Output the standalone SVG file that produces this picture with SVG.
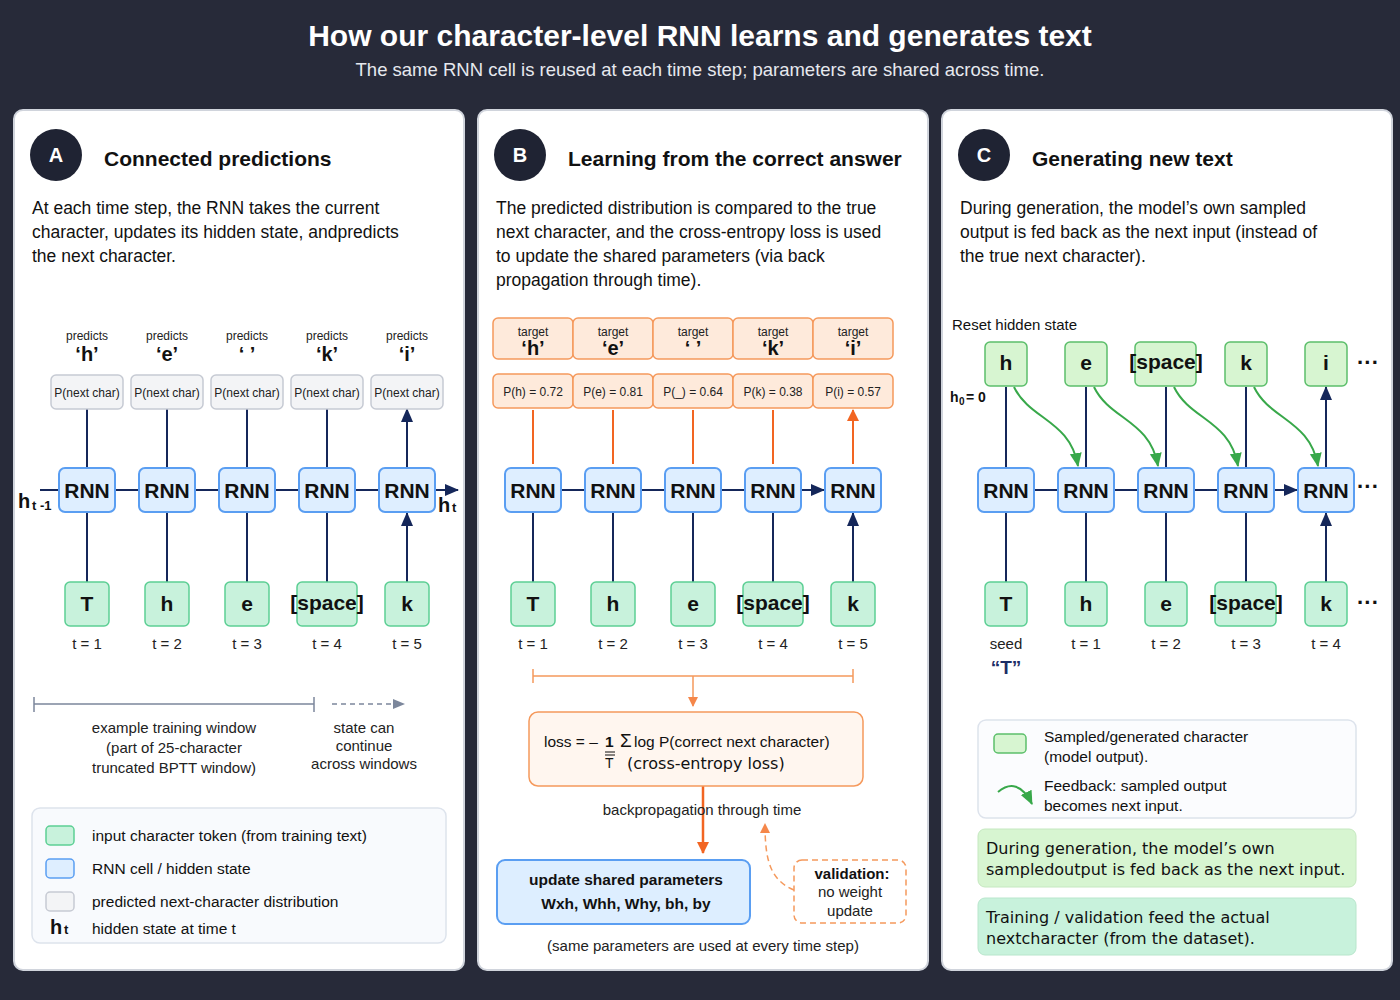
<svg xmlns="http://www.w3.org/2000/svg" width="1400" height="1000" viewBox="0 0 1400 1000">
<defs>
<marker id="nv" markerWidth="10" markerHeight="10" refX="9" refY="5" orient="auto" markerUnits="userSpaceOnUse"><path d="M0,0 L10,5 L0,10 z" fill="#15275a"/></marker>
<marker id="nvb" markerWidth="14" markerHeight="14" refX="13" refY="7" orient="auto" markerUnits="userSpaceOnUse"><path d="M0,1 L14,7 L0,13 z" fill="#15275a"/></marker>
<marker id="or" markerWidth="12" markerHeight="14" refX="11" refY="7" orient="auto" markerUnits="userSpaceOnUse"><path d="M0,1 L12,7 L0,13 z" fill="#f26522"/></marker>
<marker id="orl" markerWidth="10" markerHeight="10" refX="9" refY="5" orient="auto" markerUnits="userSpaceOnUse"><path d="M0,0 L10,5 L0,10 z" fill="#f5874a"/></marker>
<marker id="gr" markerWidth="14" markerHeight="14" refX="13" refY="7" orient="auto" markerUnits="userSpaceOnUse"><path d="M0,1 L14,7 L0,13 z" fill="#38a84a"/></marker>
<marker id="gy" markerWidth="12" markerHeight="10" refX="11" refY="5" orient="auto" markerUnits="userSpaceOnUse"><path d="M0,0 L12,5 L0,10 z" fill="#7c879c"/></marker>
</defs>
<style>
text{font-family:"Liberation Sans",Arial,sans-serif;fill:#111}
.panel{fill:#fff;stroke:#d0d4dc;stroke-width:2}
.inp{fill:#c8f2dc;stroke:#5ccf94;stroke-width:1.5}
.rnn{fill:#deeeff;stroke:#5a9ef2;stroke-width:2}
.prd{fill:#f3f4f6;stroke:#c6cad3;stroke-width:1.5}
.org{fill:#feeadb;stroke:#f5995c;stroke-width:1.5}
.smp{fill:#d7f5d1;stroke:#5cbf6b;stroke-width:1.5}
.rt{font-size:21px;font-weight:bold;text-anchor:middle}
.it{font-size:21px;font-weight:bold;text-anchor:middle}
.tl{font-size:15px;text-anchor:middle;fill:#222}
.sm{font-size:12px;text-anchor:middle;fill:#222}
.ch{font-size:20px;font-weight:bold;text-anchor:middle}
.desc{font-size:17.5px;fill:#111}
.hd{font-size:21px;font-weight:bold}
.nav{stroke:#15275a;stroke-width:2;fill:none}
.oa{stroke:#f26522;stroke-width:2;fill:none}
.ga{stroke:#38a84a;stroke-width:2;fill:none}
.badge{fill:#1f2333}
.bl{font-size:20px;font-weight:bold;fill:#fff;text-anchor:middle}
.leg{font-size:15.5px;fill:#111}
</style>
<rect width="1400" height="1000" fill="#272a39"/>
<text x="700" y="46" font-size="30" font-weight="bold" text-anchor="middle" style="fill:#fff">How our character-level RNN learns and generates text</text>
<text x="700" y="76" font-size="18.5" text-anchor="middle" style="fill:#e6e8ee">The same RNN cell is reused at each time step; parameters are shared across time.</text>

<g id="panelA">
<rect class="panel" x="14" y="110" width="450" height="860" rx="9"/>
<circle class="badge" cx="56" cy="155" r="26"/><text class="bl" x="56" y="162">A</text>
<text class="hd" x="104" y="166">Connected predictions</text>
<text class="desc" x="32" y="214">At each time step, the RNN takes the current</text>
<text class="desc" x="32" y="238">character, updates its hidden state, andpredicts</text>
<text class="desc" x="32" y="262">the next character.</text>
</g>
<g id="panelB">
<rect class="panel" x="478" y="110" width="450" height="860" rx="9"/>
<circle class="badge" cx="520" cy="155" r="26"/><text class="bl" x="520" y="162">B</text>
<text class="hd" x="568" y="166">Learning from the correct answer</text>
<text class="desc" x="496" y="214">The predicted distribution is compared to the true</text>
<text class="desc" x="496" y="238">next character, and the cross-entropy loss is used</text>
<text class="desc" x="496" y="262">to update the shared parameters (via back</text>
<text class="desc" x="496" y="286">propagation through time).</text>
</g>
<g id="panelC">
<rect class="panel" x="942" y="110" width="450" height="860" rx="9"/>
<circle class="badge" cx="984" cy="155" r="26"/><text class="bl" x="984" y="162">C</text>
<text class="hd" x="1032" y="166">Generating new text</text>
<text class="desc" x="960" y="214">During generation, the model’s own sampled</text>
<text class="desc" x="960" y="238">output is fed back as the next input (instead of</text>
<text class="desc" x="960" y="262">the true next character).</text>
</g>

<g id="connectors">
<!-- A -->
<path class="nav" d="M87 582V513M167 582V513M247 582V513M327 582V513M407 582V513" marker-end="url(#nvb)"/>
<path class="nav" d="M87 468V409M167 468V409M247 468V409M327 468V409M407 468V409" marker-end="url(#nvb)"/>
<path class="nav" d="M115 490H138M195 490H218M275 490H298M355 490H378M40 490H58M435 490H458" marker-end="url(#nvb)"/>
<!-- B -->
<path class="nav" d="M533 582V513M613 582V513M693 582V513M773 582V513M853 582V513" marker-end="url(#nvb)"/>
<path class="oa" d="M533 464V410M613 464V410M693 464V410M773 464V410M853 464V410" marker-end="url(#or)"/>
<path class="nav" d="M561 490H584M641 490H664M721 490H744M801 490H824" marker-end="url(#nvb)"/>
<path d="M533 676H853M533 669V683M853 669V683M693 676V706" stroke="#f5995c" stroke-width="1.5" fill="none" marker-end="url(#orl)"/>
<path d="M703 786V853" stroke="#f26522" stroke-width="2.5" fill="none" marker-end="url(#or)"/>
<path d="M794 890 C770 880 765 860 765 824" stroke="#f5995c" stroke-width="1.5" stroke-dasharray="6 4" fill="none" marker-end="url(#orl)"/>
<!-- C -->
<path class="nav" d="M1006 582V513M1086 582V513M1166 582V513M1246 582V513M1326 582V513" marker-end="url(#nvb)"/>
<path class="nav" d="M1006 468V387M1086 468V387M1166 468V387M1246 468V387M1326 468V387" marker-end="url(#nvb)"/>
<path class="nav" d="M1034 490H1057M1114 490H1137M1194 490H1217M1274 490H1297" marker-end="url(#nvb)"/>
<path class="ga" d="M1014 387 C1030 420 1070 420 1078 466" marker-end="url(#gr)"/>
<path class="ga" d="M1094 387 C1110 420 1150 420 1158 466" marker-end="url(#gr)"/>
<path class="ga" d="M1174 387 C1190 420 1230 420 1238 466" marker-end="url(#gr)"/>
<path class="ga" d="M1254 387 C1270 420 1310 420 1318 466" marker-end="url(#gr)"/>
</g>

<g id="chainA">
<g id="a-preds">
<text class="sm" x="87" y="340">predicts</text><text class="ch" x="87" y="361">‘h’</text>
<text class="sm" x="167" y="340">predicts</text><text class="ch" x="167" y="361">‘e’</text>
<text class="sm" x="247" y="340">predicts</text><text class="ch" x="247" y="361">‘ ’</text>
<text class="sm" x="327" y="340">predicts</text><text class="ch" x="327" y="361">‘k’</text>
<text class="sm" x="407" y="340">predicts</text><text class="ch" x="407" y="361">‘i’</text>
<rect class="prd" x="51" y="375" width="72" height="34" rx="5"/><text class="sm" x="87" y="397">P(next char)</text>
<rect class="prd" x="131" y="375" width="72" height="34" rx="5"/><text class="sm" x="167" y="397">P(next char)</text>
<rect class="prd" x="211" y="375" width="72" height="34" rx="5"/><text class="sm" x="247" y="397">P(next char)</text>
<rect class="prd" x="291" y="375" width="72" height="34" rx="5"/><text class="sm" x="327" y="397">P(next char)</text>
<rect class="prd" x="371" y="375" width="72" height="34" rx="5"/><text class="sm" x="407" y="397">P(next char)</text>
</g>
<g id="a-rnn">
<rect class="rnn" x="59" y="468" width="56" height="44" rx="6"/><text class="rt" x="87" y="498">RNN</text>
<rect class="rnn" x="139" y="468" width="56" height="44" rx="6"/><text class="rt" x="167" y="498">RNN</text>
<rect class="rnn" x="219" y="468" width="56" height="44" rx="6"/><text class="rt" x="247" y="498">RNN</text>
<rect class="rnn" x="299" y="468" width="56" height="44" rx="6"/><text class="rt" x="327" y="498">RNN</text>
<rect class="rnn" x="379" y="468" width="56" height="44" rx="6"/><text class="rt" x="407" y="498">RNN</text>
<text x="18" y="508" font-size="20" font-weight="bold">h</text><text x="32" y="510" font-size="13" font-weight="bold">t -1</text>
<text x="438" y="512" font-size="20" font-weight="bold">h</text><text x="452" y="512" font-size="13" font-weight="bold">t</text>
</g>
<g id="a-inputs">
<rect class="inp" x="65" y="582" width="44" height="44" rx="5"/><text class="it" x="87" y="611">T</text>
<rect class="inp" x="145" y="582" width="44" height="44" rx="5"/><text class="it" x="167" y="611">h</text>
<rect class="inp" x="225" y="582" width="44" height="44" rx="5"/><text class="it" x="247" y="611">e</text>
<rect class="inp" x="297" y="582" width="60" height="44" rx="5"/><text class="it" x="327" y="610">[space]</text>
<rect class="inp" x="385" y="582" width="44" height="44" rx="5"/><text class="it" x="407" y="611">k</text>
<text class="tl" x="87" y="649">t = 1</text><text class="tl" x="167" y="649">t = 2</text><text class="tl" x="247" y="649">t = 3</text><text class="tl" x="327" y="649">t = 4</text><text class="tl" x="407" y="649">t = 5</text>
</g>
<g id="a-window">
<path d="M34 704H314M34 697V712M314 697V712" stroke="#7c879c" stroke-width="1.5" fill="none"/>
<path d="M332 704H404" stroke="#7c879c" stroke-width="1.5" stroke-dasharray="5 4" fill="none" marker-end="url(#gy)"/>
<text class="tl" x="174" y="733">example training window</text>
<text class="tl" x="174" y="753">(part of 25-character</text>
<text class="tl" x="174" y="773">truncated BPTT window)</text>
<text class="tl" x="364" y="733">state can</text>
<text class="tl" x="364" y="751">continue</text>
<text class="tl" x="364" y="769">across windows</text>
</g>
<g id="a-legend">
<rect x="32" y="808" width="414" height="135" rx="8" fill="#f8fafd" stroke="#dde3ec" stroke-width="1.5"/>
<rect class="inp" x="46" y="826" width="28" height="19" rx="4"/><text class="leg" x="92" y="841">input character token (from training text)</text>
<rect class="rnn" x="46" y="859" width="28" height="19" rx="4" style="stroke-width:1.5"/><text class="leg" x="92" y="874">RNN cell / hidden state</text>
<rect class="prd" x="46" y="892" width="28" height="19" rx="4"/><text class="leg" x="92" y="907">predicted next-character distribution</text>
<text x="50" y="934" font-size="20" font-weight="bold">h</text><text x="64" y="934" font-size="13" font-weight="bold">t</text>
<text class="leg" x="92" y="934">hidden state at time t</text>
</g>
</g>

<g id="chainB">
<g id="b-targets">
<rect class="org" x="493" y="318" width="80" height="41" rx="5"/><text class="sm" x="533" y="336">target</text><text class="ch" x="533" y="355">‘h’</text>
<rect class="org" x="573" y="318" width="80" height="41" rx="5"/><text class="sm" x="613" y="336">target</text><text class="ch" x="613" y="355">‘e’</text>
<rect class="org" x="653" y="318" width="80" height="41" rx="5"/><text class="sm" x="693" y="336">target</text><text class="ch" x="693" y="355">‘ ’</text>
<rect class="org" x="733" y="318" width="80" height="41" rx="5"/><text class="sm" x="773" y="336">target</text><text class="ch" x="773" y="355">‘k’</text>
<rect class="org" x="813" y="318" width="80" height="41" rx="5"/><text class="sm" x="853" y="336">target</text><text class="ch" x="853" y="355">‘i’</text>
<rect class="org" x="493" y="374" width="80" height="34" rx="5"/><text class="sm" x="533" y="396">P(h) = 0.72</text>
<rect class="org" x="573" y="374" width="80" height="34" rx="5"/><text class="sm" x="613" y="396">P(e) = 0.81</text>
<rect class="org" x="653" y="374" width="80" height="34" rx="5"/><text class="sm" x="693" y="396">P(_) = 0.64</text>
<rect class="org" x="733" y="374" width="80" height="34" rx="5"/><text class="sm" x="773" y="396">P(k) = 0.38</text>
<rect class="org" x="813" y="374" width="80" height="34" rx="5"/><text class="sm" x="853" y="396">P(i) = 0.57</text>
</g>
<g id="b-rnn">
<rect class="rnn" x="505" y="468" width="56" height="44" rx="6"/><text class="rt" x="533" y="498">RNN</text>
<rect class="rnn" x="585" y="468" width="56" height="44" rx="6"/><text class="rt" x="613" y="498">RNN</text>
<rect class="rnn" x="665" y="468" width="56" height="44" rx="6"/><text class="rt" x="693" y="498">RNN</text>
<rect class="rnn" x="745" y="468" width="56" height="44" rx="6"/><text class="rt" x="773" y="498">RNN</text>
<rect class="rnn" x="825" y="468" width="56" height="44" rx="6"/><text class="rt" x="853" y="498">RNN</text>
</g>
<g id="b-inputs">
<rect class="inp" x="511" y="582" width="44" height="44" rx="5"/><text class="it" x="533" y="611">T</text>
<rect class="inp" x="591" y="582" width="44" height="44" rx="5"/><text class="it" x="613" y="611">h</text>
<rect class="inp" x="671" y="582" width="44" height="44" rx="5"/><text class="it" x="693" y="611">e</text>
<rect class="inp" x="743" y="582" width="60" height="44" rx="5"/><text class="it" x="773" y="610">[space]</text>
<rect class="inp" x="831" y="582" width="44" height="44" rx="5"/><text class="it" x="853" y="611">k</text>
<text class="tl" x="533" y="649">t = 1</text><text class="tl" x="613" y="649">t = 2</text><text class="tl" x="693" y="649">t = 3</text><text class="tl" x="773" y="649">t = 4</text><text class="tl" x="853" y="649">t = 5</text>
</g>
<g id="b-loss">
<rect x="529" y="712" width="334" height="74" rx="9" fill="#fff6ef" stroke="#f5995c" stroke-width="1.5"/>
<text x="544" y="747" font-size="15.5">loss = –</text>
<text x="605" y="747" font-size="15.5" font-weight="bold">1</text>
<path d="M605 752H615M605 755H615" stroke="#111" stroke-width="1"/>
<text x="605" y="768" font-size="14">T</text>
<text x="620" y="747" font-size="19">Σ</text>
<text x="634" y="747" font-size="15.5">log P(correct next character)</text>
<text x="627" y="769" font-size="16" style="font-family:'DejaVu Sans',sans-serif">(cross-entropy loss)</text>
</g>
<text class="tl" x="702" y="815">backpropagation through time</text>
<g id="b-update">
<rect x="497" y="860" width="253" height="64" rx="8" fill="#ddeeff" stroke="#5a9ef2" stroke-width="2"/>
<text x="626" y="885" font-size="15.5" font-weight="bold" text-anchor="middle">update shared parameters</text>
<text x="626" y="909" font-size="15.5" font-weight="bold" text-anchor="middle">Wxh, Whh, Why, bh, by</text>
</g>
<g id="b-validation">
<rect x="794" y="860" width="112" height="63" rx="8" fill="#fff" stroke="#f5995c" stroke-width="1.5" stroke-dasharray="6 4"/>
<text x="852" y="879" font-size="15" font-weight="bold" text-anchor="middle">validation:</text>
<text class="tl" x="850" y="897">no weight</text>
<text class="tl" x="850" y="916">update</text>
</g>
<text class="tl" x="703" y="951">(same parameters are used at every time step)</text>
</g>

<g id="chainC">
<text x="952" y="330" font-size="15">Reset hidden state</text>
<g id="c-out">
<rect class="smp" x="985" y="342" width="42" height="44" rx="5"/><text class="it" x="1006" y="370">h</text>
<rect class="smp" x="1065" y="342" width="42" height="44" rx="5"/><text class="it" x="1086" y="370">e</text>
<rect class="smp" x="1135" y="342" width="61" height="44" rx="5"/><text class="it" x="1166" y="369">[space]</text>
<rect class="smp" x="1225" y="342" width="42" height="44" rx="5"/><text class="it" x="1246" y="370">k</text>
<rect class="smp" x="1305" y="342" width="42" height="44" rx="5"/><text class="it" x="1326" y="370">i</text>
<text x="1368" y="370" font-size="22" font-weight="bold" text-anchor="middle">···</text>
<text x="950" y="402" font-size="14" font-weight="bold">h</text><text x="959" y="405" font-size="10" font-weight="bold">0</text><text x="966" y="402" font-size="14" font-weight="bold"> = 0</text>
</g>
<g id="c-rnn">
<rect class="rnn" x="978" y="468" width="56" height="44" rx="6"/><text class="rt" x="1006" y="498">RNN</text>
<rect class="rnn" x="1058" y="468" width="56" height="44" rx="6"/><text class="rt" x="1086" y="498">RNN</text>
<rect class="rnn" x="1138" y="468" width="56" height="44" rx="6"/><text class="rt" x="1166" y="498">RNN</text>
<rect class="rnn" x="1218" y="468" width="56" height="44" rx="6"/><text class="rt" x="1246" y="498">RNN</text>
<rect class="rnn" x="1298" y="468" width="56" height="44" rx="6"/><text class="rt" x="1326" y="498">RNN</text>
<text x="1368" y="494" font-size="22" font-weight="bold" text-anchor="middle">···</text>
</g>
<g id="c-inputs">
<rect class="inp" x="985" y="582" width="42" height="44" rx="5"/><text class="it" x="1006" y="611">T</text>
<rect class="inp" x="1065" y="582" width="42" height="44" rx="5"/><text class="it" x="1086" y="611">h</text>
<rect class="inp" x="1145" y="582" width="42" height="44" rx="5"/><text class="it" x="1166" y="611">e</text>
<rect class="inp" x="1215" y="582" width="61" height="44" rx="5"/><text class="it" x="1246" y="610">[space]</text>
<rect class="inp" x="1305" y="582" width="42" height="44" rx="5"/><text class="it" x="1326" y="611">k</text>
<text x="1368" y="610" font-size="22" font-weight="bold" text-anchor="middle">···</text>
<text class="tl" x="1006" y="649">seed</text>
<text x="1006" y="674" font-size="19" font-weight="bold" text-anchor="middle" style="fill:#1b2d66">“T”</text>
<text class="tl" x="1086" y="649">t = 1</text><text class="tl" x="1166" y="649">t = 2</text><text class="tl" x="1246" y="649">t = 3</text><text class="tl" x="1326" y="649">t = 4</text>
</g>
<g id="c-legend">
<rect x="978" y="720" width="378" height="98" rx="8" fill="#fbfcfe" stroke="#dde3ec" stroke-width="1.5"/>
<rect class="smp" x="994" y="734" width="32" height="19" rx="4"/>
<text class="leg" x="1044" y="742">Sampled/generated character</text>
<text class="leg" x="1044" y="762">(model output).</text>
<path class="ga" d="M998 792 C1010 782 1022 784 1032 804" marker-end="url(#gr)"/>
<text class="leg" x="1044" y="791">Feedback: sampled output</text>
<text class="leg" x="1044" y="811">becomes next input.</text>
</g>
<g id="c-note1">
<rect x="978" y="829" width="378" height="58" rx="7" fill="#d7f5d1" stroke="#c5e8c0" stroke-width="1"/>
<text x="986" y="854" font-size="16" style="font-family:'DejaVu Sans',sans-serif">During generation, the model’s own</text>
<text x="986" y="875" font-size="16" style="font-family:'DejaVu Sans',sans-serif">sampledoutput is fed back as the next input.</text>
</g>
<g id="c-note2">
<rect x="978" y="898" width="378" height="57" rx="7" fill="#c8f2dc" stroke="#b8e6cc" stroke-width="1"/>
<text x="986" y="923" font-size="16" style="font-family:'DejaVu Sans',sans-serif">Training / validation feed the actual</text>
<text x="986" y="944" font-size="16" style="font-family:'DejaVu Sans',sans-serif">nextcharacter (from the dataset).</text>
</g>
</g>
</svg>
